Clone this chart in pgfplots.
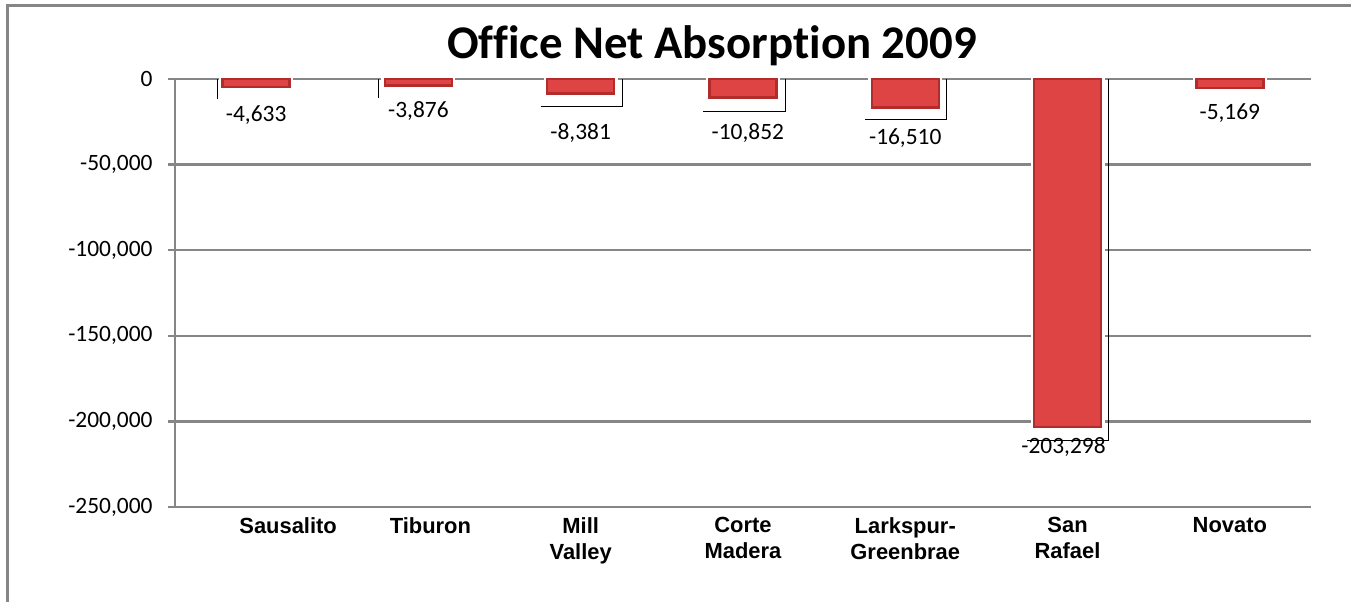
\documentclass[border=0pt]{standalone}
\usepackage{fontspec}
\setmainfont[Ligatures=CommonOff]{Carlito}
\newfontfamily\arialfont{Liberation Sans}
\usepackage{pgfplots}
\usepackage{pgfplotstable}
\pgfplotsset{compat=1.18}

\definecolor{gridgray}{RGB}{134,134,134}
\definecolor{barred}{RGB}{222,68,68}
\definecolor{baredge}{RGB}{178,44,44}

% net absorption by submarket
\pgfplotstableread{
x y
0 -4633
1 -3876
2 -8381
3 -10852
4 -16510
5 -203298
6 -5169
}\absdata

% where the value labels sit
\pgfplotstableread{
x y label
0 -21000 -4,633
1 -18700 -3,876
2 -31500 -8,381
3.03 -31500 -10,852
4 -34500 -16,510
4.975 -215000 -203,298
6 -19900 -5,169
}\labeldata

\begin{document}
\begin{tikzpicture}
\path[use as bounding box] (0,0) rectangle (1351bp,602bp);
\draw[gridgray, line width=3bp] (7bp,0) -- (7bp,596bp) -- (1351bp,596bp);
\begin{axis}[
    at={(175bp,95bp)}, anchor=south west,
    width=1136bp, height=428bp, scale only axis,
    xmin=-0.5, xmax=6.5, ymin=-250000, ymax=0,
    axis x line*=bottom, axis y line*=left,
    axis line style={gridgray, line width=2.5bp},
    ytick={-250000,-200000,-150000,-100000,-50000,0},
    ymajorgrids, grid style={gridgray, line width=2.5bp},
    ytick style={gridgray, line width=2.5bp},
    major tick length=7bp, tick align=outside,
    scaled y ticks=false,
    /pgf/number format/assume math mode=true,
    yticklabel style={font=\fontsize{23.5}{28}\selectfont, xshift=-12bp,
        /pgf/number format/fixed, /pgf/number format/1000 sep={,}},
    xtick={0,1,2,3,4,5,6},
    xtick style={draw=none},
    xticklabels={\hspace*{64bp}Sausalito, \hspace*{24bp}Tiburon, Mill\\Valley,
        Corte\\Madera, Larkspur-\\Greenbrae, San\\Rafael, Novato},
    xticklabel style={font=\arialfont\bfseries\fontsize{22}{26}\selectfont,
        align=center, anchor=north},
]
\addplot[ybar, bar width=67bp, bar shift=0pt, fill=white, draw=white,
    line width=7bp] table[x=x, y=y] {\absdata};
\addplot[ybar, bar width=67bp, bar shift=0pt, fill=barred, draw=baredge,
    line width=2.5bp] table[x=x, y=y] {\absdata};
\addplot[draw=none, mark=none, nodes near coords,
    point meta=explicit symbolic,
    every node near coord/.append style={anchor=center,
        font=\fontsize{23.5}{28}\selectfont, text=black}]
    table[x=x, y=y, meta=label] {\labeldata};

% leader lines of the label boxes
\draw[black, line width=1bp] (axis cs:-0.24,0) -- (axis cs:-0.24,-11700);
\draw[black, line width=1bp] (axis cs:0.753,0) -- (axis cs:0.753,-11100);
\draw[black, line width=1bp] (axis cs:1.753,-15800) -- (axis cs:2.26,-15800) -- (axis cs:2.26,0);
\draw[black, line width=1bp] (axis cs:2.753,-18700) -- (axis cs:3.26,-18700) -- (axis cs:3.26,0);
\draw[black, line width=1bp] (axis cs:3.753,-23950) -- (axis cs:4.253,-23950) -- (axis cs:4.253,0);
\draw[black, line width=1bp] (axis cs:4.753,-210900) -- (axis cs:5.253,-210900) -- (axis cs:5.253,0);
\end{axis}
\node[font=\bfseries\fontsize{47}{52}\selectfont, anchor=base] at (712bp,543bp)
    {Office Net Absorption 2009};
\end{tikzpicture}
\end{document}
